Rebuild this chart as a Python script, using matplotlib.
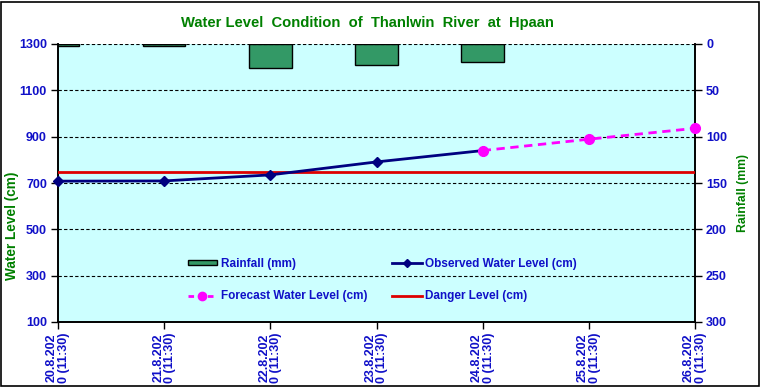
import matplotlib
matplotlib.use("Agg")
import matplotlib.pyplot as plt
from matplotlib.patches import Rectangle
from matplotlib.lines import Line2D
from matplotlib.patches import Patch

plt.rcParams['font.family'] = ['Liberation Sans', 'DejaVu Sans']

dates = ["20.8.202\n0 (11:30)", "21.8.202\n0 (11:30)", "22.8.202\n0 (11:30)",
         "23.8.202\n0 (11:30)", "24.8.202\n0 (11:30)", "25.8.202\n0 (11:30)",
         "26.8.202\n0 (11:30)"]
rainfall = [2, 2, 26, 23, 19, 0, 0]
observed = [708, 709, 735, 791, 840]
forecast = [None, None, None, None, 840, 889, 936]
danger = [747] * 7

W, H = 761, 388
fig = plt.figure(figsize=(W / 100, H / 100), dpi=100)
fig.patch.set_facecolor('white')

left, right, top, bottom = 58, 695, 44, 322
ax = fig.add_axes([left / W, 1 - bottom / H, (right - left) / W, (bottom - top) / H])
ax2 = ax.twinx()

blue = '#1010C8'
green = '#008000'
x = list(range(len(dates)))

# rainfall bars on right axis (inverted)
edges = ['black' if r > 0 else 'none' for r in rainfall]
ax2.bar(x, rainfall, width=0.4, color='#339966', edgecolor=edges, linewidth=1.0, zorder=2)
ax2.set_ylim(300, 0)
ax2.set_yticks(range(0, 301, 50))

ax.set_zorder(ax2.get_zorder() + 1)
ax.patch.set_visible(False)
ax2.set_facecolor('#CCFFFF')
ax2.patch.set_visible(True)

ax.set_ylim(100, 1300)
ax.set_yticks(range(100, 1301, 200))
ax.set_xlim(0, 6)
for yv in range(300, 1301, 200):
    ax.axhline(yv, color='black', linestyle=(0, (3, 2)), linewidth=0.8, zorder=0)

ax.plot(x, danger, color='#DD0000', linewidth=2, zorder=3)
ax.plot(x[:len(observed)], observed, color='#000080', linewidth=2, marker='D',
        markersize=5, zorder=4, clip_on=False)
fx = [i for i, v in enumerate(forecast) if v is not None]
fy = [v for v in forecast if v is not None]
ax.plot(fx, fy, color='#FF00FF', linewidth=2, linestyle=(0, (3, 2)), marker='o',
        markersize=7, zorder=5, clip_on=False)

ax.set_xticks(x)
ax.set_xticklabels(dates, rotation=90, fontsize=9, fontweight='bold', color=blue,
                   linespacing=1.0, va='top')

for a in (ax, ax2):
    a.tick_params(axis='both', direction='out', length=5, width=1, color='black')
    a.spines['top'].set_visible(False)
    for s in ('left', 'right', 'bottom'):
        a.spines[s].set_color('black')
        a.spines[s].set_linewidth(1.2)
ax.tick_params(axis='y', labelsize=9, labelcolor=blue, pad=3)
ax.tick_params(axis='x', pad=2.5)
for lbl in ax.get_yticklabels():
    lbl.set_fontweight('bold')
ax2.tick_params(axis='y', labelsize=9, labelcolor=blue, pad=3)
for lbl in ax2.get_yticklabels():
    lbl.set_fontweight('bold')

fig.text(367 / W, 1 - 23 / H, "Water Level  Condition  of  Thanlwin  River  at  Hpaan",
         ha='center', va='center', fontsize=10.6, fontweight='bold', color=green)
fig.text(12 / W, 1 - 226 / H, "Water Level (cm)", rotation=90, ha='center', va='center',
         fontsize=9.8, fontweight='bold', color=green)
fig.text(743 / W, 1 - 193 / H, "Rainfall (mm)", rotation=90, ha='center', va='center',
         fontsize=8.8, fontweight='bold', color=green)

handles = [
    Patch(facecolor='#339966', edgecolor='black', linewidth=1.0),
    Line2D([], [], color='#000080', linewidth=2, marker='D', markersize=4),
    Line2D([], [], color='#FF00FF', linewidth=2, linestyle=(0, (2, 1.5)), marker='o', markersize=6),
    Line2D([], [], color='#DD0000', linewidth=2),
]
labels = ["Rainfall (mm)", "Observed Water Level (cm)", "Forecast Water Level (cm)", "Danger Level (cm)"]
leg = ax.legend([handles[0], handles[2], handles[1], handles[3]],
                [labels[0], labels[2], labels[1], labels[3]],
                ncol=2, frameon=False, loc='upper left',
                bbox_to_anchor=((183 - left) / (right - left), 1 - (253 - top) / (bottom - top)),
                prop={'size': 8.5, 'weight': 'bold'}, labelcolor=blue,
                handlelength=2.5, handleheight=0.4, handletextpad=0.3,
                columnspacing=2.1, labelspacing=1.75, borderaxespad=0)

fig.add_artist(Rectangle((1 / W, 2 / H), (W - 3) / W, (H - 4) / H, transform=fig.transFigure,
                         fill=False, edgecolor='black', linewidth=1.2))

fig.savefig('out.png', dpi=100)
